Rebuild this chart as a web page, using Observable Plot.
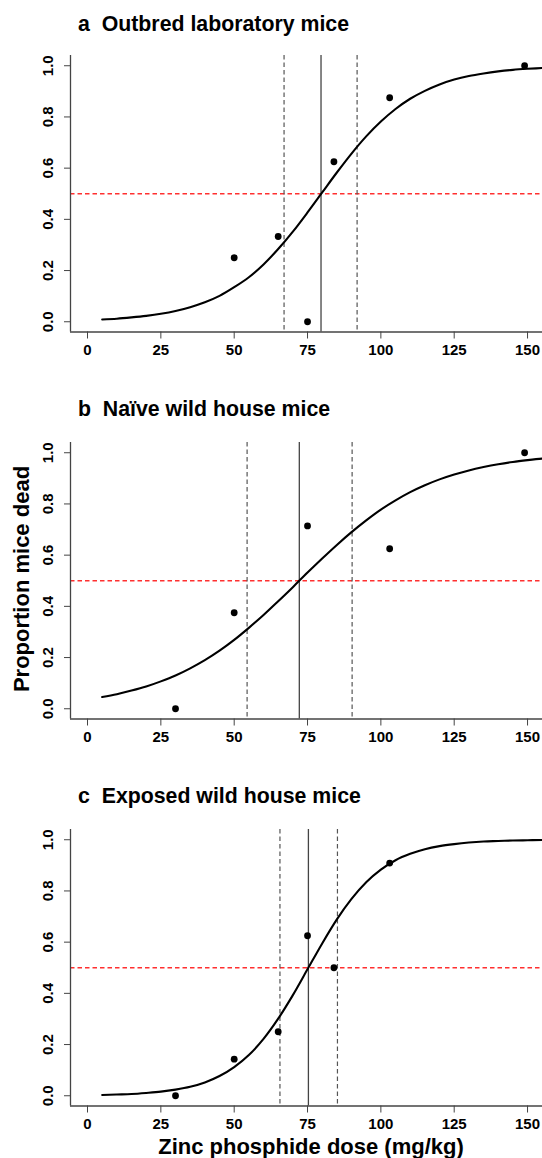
<!DOCTYPE html>
<html>
<head>
<meta charset="utf-8">
<script src="https://cdn.jsdelivr.net/npm/d3@7"></script>
<script src="https://cdn.jsdelivr.net/npm/@observablehq/plot@0.6"></script>
<style>
  body { margin: 0; background: #fff; }
  #wrap { position: relative; width: 542px; height: 1158px; overflow: hidden;
          font-family: "Liberation Sans", Arial, sans-serif; font-weight: bold; color: #000; }
  .panel { position: absolute; left: 0; }
  .title { position: absolute; left: 78px; font-size: 21.3px; line-height: 1; white-space: pre; }
  #ylab { position: absolute; left: 21.5px; top: 579px; font-size: 22px; line-height: 1; white-space: nowrap;
          transform: translate(-50%, -50%) rotate(-90deg); }
  #xlab { position: absolute; left: 311px; top: 1136.4px; font-size: 22px; line-height: 1; white-space: nowrap;
          transform: translateX(-50%); }
</style>
</head>
<body>
<div id="wrap"></div>
<script>
// ---- data ----
const panelTitles = ["a  Outbred laboratory mice", "b  Naïve wild house mice", "c  Exposed wild house mice"];
const yTitle = "Proportion mice dead";
const xTitle = "Zinc phosphide dose (mg/kg)";

const xTicks = [0, 25, 50, 75, 100, 125, 150];
const xTickLabels = ["0", "25", "50", "75", "100", "125", "150"];
const yTicks = [0, 0.2, 0.4, 0.6, 0.8, 1.0];
const yTickLabels = ["0.0", "0.2", "0.4", "0.6", "0.8", "1.0"];

// observed proportions dead
const doseA = [50, 65, 75, 84, 103, 149];
const propA = [0.25, 0.333, 0.0, 0.625, 0.875, 1.0];
const doseB = [30, 50, 75, 103, 149];
const propB = [0.0, 0.375, 0.714, 0.625, 1.0];
const doseC = [30, 50, 65, 75, 84, 103];
const propC = [0.0, 0.143, 0.25, 0.625, 0.5, 0.909];

// LD50 (solid) with lower / upper limits (dashed)
const ldA = {lower: 67.0, ld50: 79.6, upper: 91.9};
const ldB = {lower: 54.4, ld50: 72.2, upper: 90.2};
const ldC = {lower: 65.6, ld50: 75.3, upper: 85.2};

// fitted dose-response curves
const curveDose = [5, 10, 15, 20, 25, 30, 35, 40, 45, 50, 55, 60, 65, 70, 75, 80, 85, 90, 95, 100,
                   105, 110, 115, 120, 125, 130, 135, 140, 145, 150, 155, 160];
const curveA = [0.009, 0.012, 0.017, 0.023, 0.031, 0.042, 0.057, 0.076, 0.101, 0.135, 0.174, 0.224,
                0.284, 0.352, 0.427, 0.505, 0.583, 0.657, 0.724, 0.782, 0.831, 0.871, 0.902, 0.927,
                0.946, 0.960, 0.970, 0.978, 0.984, 0.988, 0.991, 0.994];
const curveB = [0.046, 0.057, 0.071, 0.087, 0.107, 0.130, 0.158, 0.190, 0.227, 0.269, 0.316, 0.366,
                0.420, 0.475, 0.532, 0.587, 0.640, 0.690, 0.736, 0.778, 0.814, 0.846, 0.873, 0.896,
                0.915, 0.931, 0.944, 0.955, 0.964, 0.971, 0.977, 0.981];
const curveC = [0.003, 0.005, 0.007, 0.011, 0.016, 0.024, 0.035, 0.052, 0.077, 0.112, 0.159, 0.222,
                0.301, 0.393, 0.494, 0.595, 0.689, 0.769, 0.834, 0.883, 0.920, 0.945, 0.963, 0.975,
                0.983, 0.989, 0.993, 0.995, 0.997, 0.998, 0.999, 0.999];

const xDomain = [-5.8, 155.1];
const yDomain = [-0.04, 1.04];

// ---- drawing ----
const FONT = '"Liberation Sans", Arial, sans-serif';
const panelTops = [0, 387, 774];
const titleTops = [13.5, 399, 785.5];

function panel(dose, prop, curveP, ld) {
  const pts = dose.map((d, i) => ({dose: d, p: prop[i]}));
  const curve = curveDose.map((d, i) => ({dose: d, p: curveP[i]}));
  return Plot.plot({
    width: 542,
    height: 362,
    marginLeft: 70,
    marginRight: 0,
    marginTop: 55,
    marginBottom: 30.5,
    style: {fontFamily: FONT, background: "transparent", overflow: "visible"},
    x: {domain: xDomain, axis: null},
    y: {domain: yDomain, axis: null},
    marks: [
      Plot.ruleY([0.5], {stroke: "#ff3030", strokeWidth: 1.3, strokeDasharray: "4.5,3"}),
      Plot.ruleX([ld.lower, ld.upper], {stroke: "#555", strokeWidth: 1.2, strokeDasharray: "4.5,3"}),
      Plot.ruleX([ld.ld50], {stroke: "#444", strokeWidth: 1.3}),
      Plot.line(curve, {x: "dose", y: "p", stroke: "#000", strokeWidth: 2.1, curve: "monotone-x", clip: true}),
      Plot.dot(pts, {x: "dose", y: "p", r: 3.4, fill: "#000"}),
      Plot.ruleX([xDomain[0]], {stroke: "#444", strokeWidth: 1.3}),
      Plot.ruleY([yDomain[0]], {stroke: "#444", strokeWidth: 1.3}),
      Plot.axisX({ticks: xTicks, tickFormat: (d, i) => xTickLabels[i], tickSize: 7, tickPadding: 5.5,
                  fontSize: 15, fontWeight: "bold", stroke: "#444", fill: "#000", label: null}),
      Plot.axisY({ticks: yTicks, tickFormat: (d, i) => yTickLabels[i], tickSize: 6, tickPadding: 12,
                  tickRotate: -90, fontSize: 15, fontWeight: "bold", stroke: "#444", fill: "#000", label: null})
    ]
  });
}

const wrap = document.getElementById("wrap");
const data = [[doseA, propA, curveA, ldA], [doseB, propB, curveB, ldB], [doseC, propC, curveC, ldC]];
data.forEach((args, k) => {
  const holder = document.createElement("div");
  holder.className = "panel";
  holder.style.top = panelTops[k] + "px";
  holder.appendChild(panel(...args));
  wrap.appendChild(holder);
  const t = document.createElement("div");
  t.className = "title";
  t.style.top = titleTops[k] + "px";
  t.textContent = panelTitles[k];
  wrap.appendChild(t);
});
const yl = document.createElement("div");
yl.id = "ylab"; yl.textContent = yTitle; wrap.appendChild(yl);
const xl = document.createElement("div");
xl.id = "xlab"; xl.textContent = xTitle; wrap.appendChild(xl);
</script>
</body>
</html>
